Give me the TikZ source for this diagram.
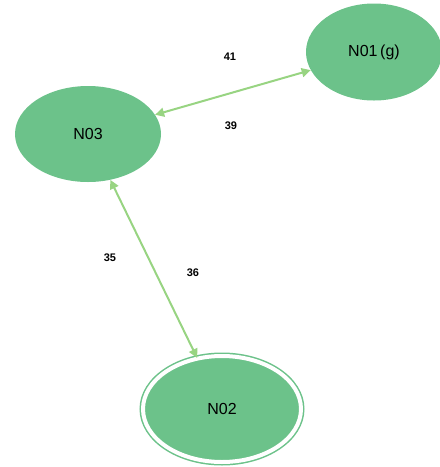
\documentclass[tikz,border=0pt]{standalone}
\usepackage{fontspec}
\setmainfont{Liberation Sans}
\usetikzlibrary{shapes.geometric,arrows.meta}
\definecolor{nodefill}{RGB}{108,194,138}
\definecolor{edgecol}{RGB}{152,212,130}
\tikzset{
  state/.style={ellipse, fill=nodefill, inner sep=0pt, font=\fontsize{16}{18}\selectfont},
  accepting/.style={state, double=white, draw=nodefill, double distance=4pt, line width=1.5pt},
  edge/.style={draw=edgecol, line width=2pt, {Triangle[length=9pt,width=9pt]}-{Triangle[length=9pt,width=9pt]}},
  elabel/.style={font=\fontsize{11}{13}\selectfont\bfseries}
}
\begin{document}
\begin{tikzpicture}[x=1pt,y=-1pt]
\useasboundingbox (0,0) rectangle (440,467);
\node[state, minimum width=136pt, minimum height=97pt] (N01) at (374,52) {N01\,(g)};
\node[state, minimum width=146pt, minimum height=96pt] (N03) at (88,134) {N03};
\node[accepting, minimum width=158pt, minimum height=106pt] (N02) at (222,409) {N02};
\draw[edge] (N03) -- (N01);
\draw[edge] (N03) -- (N02);
\node[elabel] (l41) at (230,57) {41};
\node[elabel] (l39) at (231,126) {39};
\node[elabel] (l35) at (110,258) {35};
\node[elabel] (l36) at (193,273) {36};
\end{tikzpicture}
\end{document}
